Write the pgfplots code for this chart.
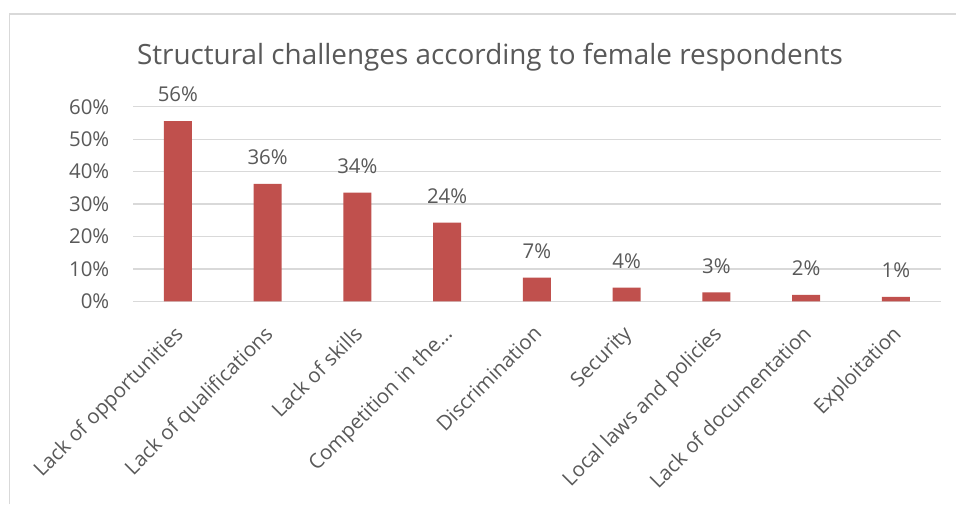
\documentclass[border=0pt]{standalone}
\usepackage{pgfplots}
\pgfplotsset{compat=1.18}
\usepackage{fontspec}
\setmainfont{Open Sans}
\definecolor{barred}{HTML}{C0504D}
\definecolor{txtgray}{HTML}{595959}
\definecolor{gridgray}{HTML}{D9D9D9}
\begin{document}
\begin{tikzpicture}
\useasboundingbox (0,0) rectangle (717pt,378pt);
\fill[white] (0,0) rectangle (717pt,378pt);
\draw[gridgray, line width=0.9pt] (7.1pt,0) -- (7.1pt,367.5pt) -- (717pt,367.5pt);
\node[anchor=base, inner sep=0pt, text=txtgray, font=\fontsize{20.9}{25}\selectfont] at (367.5pt,329.25pt) {Structural challenges according to female respondents};
\begin{axis}[
  at={(99.75pt,152.0pt)}, anchor=south west,
  scale only axis, width=605.8pt, height=145.95pt,
  ybar, bar width=21pt,
  xmin=-0.5, xmax=8.5, ymin=0, ymax=60,
  xtick={0,...,8},
  xticklabels={Lack of opportunities, Lack of qualifications, Lack of skills, Competition in the\ldots, Discrimination, Security, Local laws and policies, Lack of documentation, Exploitation},
  ytick={0,10,...,60},
  yticklabels={0\%,10\%,20\%,30\%,40\%,50\%,60\%},
  major tick length=0pt,
  axis line style={draw=none},
  ymajorgrids, grid style={gridgray, line width=0.9pt},
  tick label style={text=txtgray, font=\fontsize{15.3}{18}\selectfont},
  yticklabel style={anchor=east, inner sep=0pt, xshift=-17.6pt},
  xticklabel style={yshift=-17pt, xshift=-3.5pt, rotate=45, anchor=north east, inner sep=0pt},
  clip=false,
  point meta=explicit symbolic,
  nodes near coords,
  every node near coord/.append style={anchor=base, inner sep=0pt, yshift=14.3pt, text=txtgray, font=\fontsize{15.3}{18}\selectfont},
]
\addplot[fill=barred, draw=none] coordinates {
  (0,55.6) [56\%]
  (1,36.2) [36\%]
  (2,33.5) [34\%]
  (3,24.3) [24\%]
  (4,7.3) [7\%]
  (5,4.2) [4\%]
  (6,2.8) [3\%]
  (7,2.0) [2\%]
  (8,1.4) [1\%]
};
\end{axis}
\end{tikzpicture}
\end{document}
